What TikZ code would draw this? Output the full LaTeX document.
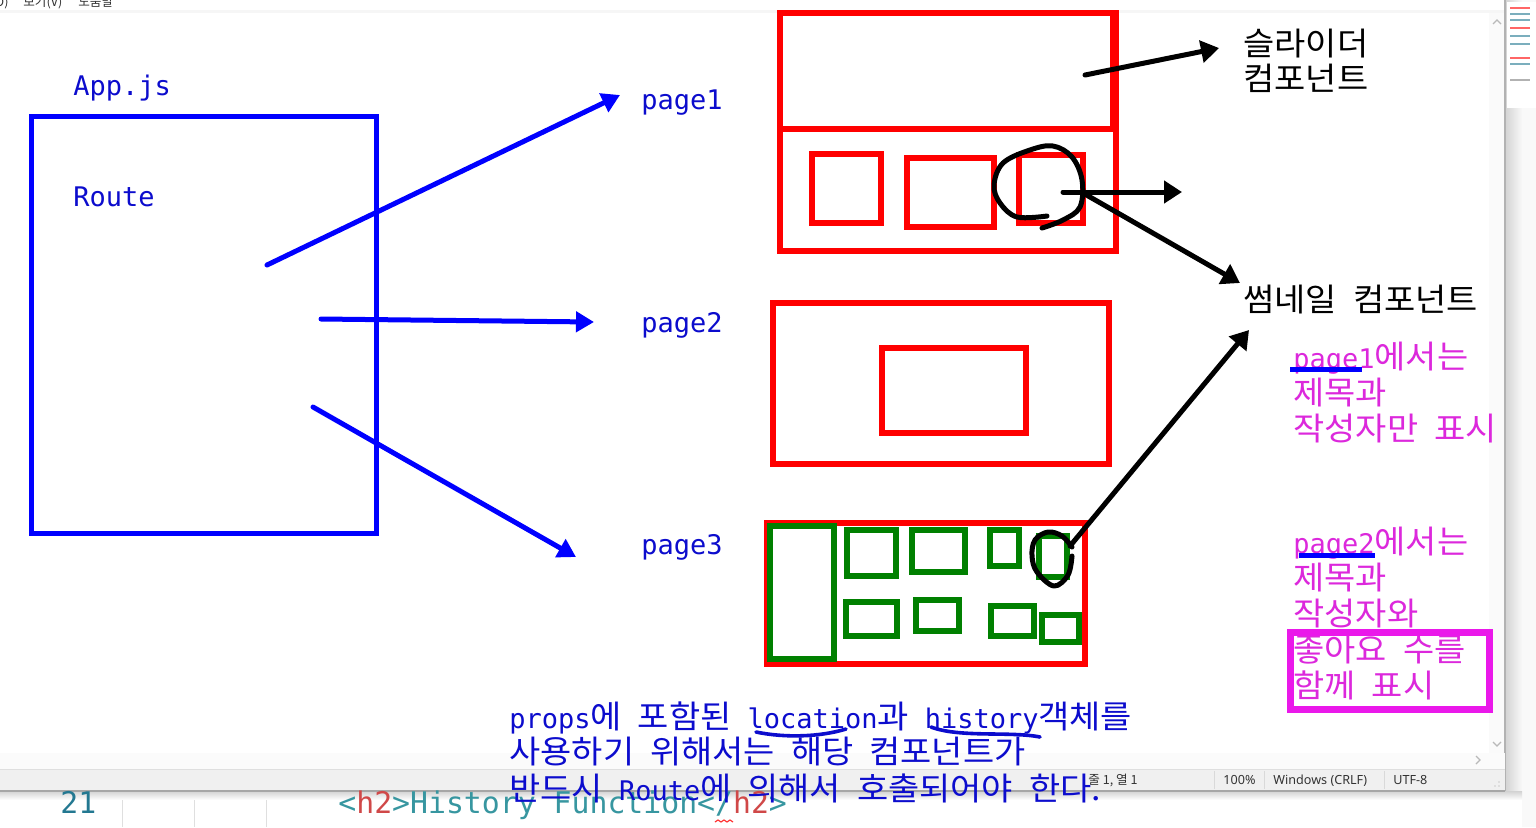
\documentclass[tikz,border=0pt]{standalone}
\usepackage{fontspec}
\setmainfont{Noto Sans CJK KR}
\newfontfamily\krfont[FakeStretch=1.06]{Noto Sans CJK KR}
\newfontfamily\uikrfont{Noto Sans CJK KR}
\newfontfamily\monofont{DejaVu Sans Mono}
\newfontfamily\uifont{Noto Sans}
\usetikzlibrary{arrows.meta,calc}
\definecolor{penblue}{RGB}{0,0,255}
\definecolor{inkblue}{RGB}{12,12,205}
\definecolor{penred}{RGB}{255,0,0}
\definecolor{pengreen}{RGB}{0,128,0}
\definecolor{penpink}{RGB}{234,24,234}
\definecolor{inkpink}{RGB}{220,40,220}
\definecolor{barbg}{RGB}{240,240,240}
\definecolor{lineno}{RGB}{35,120,145}
\definecolor{tagbr}{RGB}{55,150,160}
\definecolor{tagnm}{RGB}{208,72,72}
\newcommand\lat[1]{{\monofont\fontsize{13.5}{18}\selectfont #1}}
\tikzset{%
  bluepen/.style   = {draw=penblue, line width=2.5pt},%
  redpen/.style    = {draw=penred, line width=2.6pt},%
  greenpen/.style  = {draw=pengreen, line width=3pt},%
  blackpen/.style  = {draw=black, line width=2.5pt, line cap=round, line join=round},%
  bluearrow/.style = {bluepen, line cap=round, -{Triangle[length=9pt,width=10pt]}},%
  blackarrow/.style= {blackpen, -{Triangle[length=9pt,width=11pt]}},%
  monolabel/.style = {anchor=base west, inner sep=0pt, text=inkblue,%
                      font={\monofont\fontsize{13.5}{16}\selectfont}},%
  krlabel/.style   = {anchor=base west, inner sep=0pt,%
                      font={\krfont\fontsize{16}{18}\selectfont\spaceskip=8pt\relax}},%
  uitext/.style    = {anchor=base west, inner sep=0pt, text=black!80,%
                      font={\uifont\fontsize{6.3}{8}\selectfont}},%
  uikr/.style      = {uitext, font={\uikrfont\fontsize{6.3}{8}\selectfont}},%
  codetext/.style  = {anchor=base west, inner sep=0pt,%
                      font={\monofont\fontsize{14.9}{18}\selectfont}}%
}
\begin{document}
\begin{tikzpicture}[x=0.5pt, y=-0.5pt]
	\useasboundingbox (0,0) rectangle (1536,827);
	\fill[white] (0,0) rectangle (1536,827);
	% window chrome
	\node[uikr, anchor=base east] (menuO) at (9,6) {서식(O)};
	\node[uikr] (menuV) at (23,6) {보기(V)};
	\node[uikr] (menuH) at (78,6) {도움말};
	\fill[gray!7] (0,10) rectangle (1505,13);
	\fill[gray!4] (1489,13) rectangle (1505,753);
	\draw[gray!55, line width=0.6pt] (1493,24) -- (1497,20) -- (1501,24);
	\draw[gray!55, line width=0.6pt] (1493,742) -- (1497,746) -- (1501,742);
	\shade[left color=gray!35, right color=gray!5] (1505,0) rectangle (1522,800);
	\fill[gray!5] (1522,0) rectangle (1536,827);
	\fill[white] (1507,2) rectangle (1536,108);
	\foreach \yy/\cc in {8/penred,14/lineno,20/lineno,28/penred,36/lineno,44/lineno,58/penred,64/lineno,80/gray}{%
		\draw[\cc!60, line width=0.6pt] (1510,\yy) -- (1530,\yy);}
	\draw[gray!60, line width=1pt] (1505,0) -- (1505,791);
	\fill[gray!3] (0,753) rectangle (1505,769);
	\draw[gray!55, line width=0.6pt] (1476,756) -- (1480,760) -- (1476,764);
	\fill[barbg] (0,769) rectangle (1505,791);
	\draw[gray!25] (0,769) -- (1505,769);
	\draw[gray!30] (1214,771) -- (1214,789) (1264,771) -- (1264,789) (1384,771) -- (1384,789);
	\node[uikr] (stPos) at (1088,784) {줄 1, 열 1};
	\node[uitext] (stZoom) at (1223,784) {100\%};
	\node[uitext] (stEol) at (1273,784) {Windows (CRLF)};
	\node[uitext] (stEnc) at (1393,784) {UTF-8};
	\fill[gray!40] (1495,786) circle (0.8) (1499,782) circle (0.8) (1499,786) circle (0.8);
	\shade[top color=gray!35, bottom color=white] (0,791) rectangle (1522,800);
	\draw[gray!70, line width=1pt] (0,791) -- (1505,791);
	% editor line behind
	\draw[gray!25] (122,800) -- (122,827) (194,800) -- (194,827) (266,800) -- (266,827);
	\node[codetext, text=lineno] (lnum) at (60,813) {21};
	\node[codetext] (codeln) at (338,813) {\textcolor{tagbr}{<}\textcolor{tagnm}{h2}\textcolor{tagbr}{>History Function</}\textcolor{tagnm}{h2}\textcolor{tagbr}{>}};
	\draw[red!80, line width=0.6pt] (715,822) -- (718,820) -- (721,822) -- (724,820) -- (727,822) -- (730,820) -- (733,822);
	% App.js and routes
	\node[monolabel] (lblApp) at (73,95) {App.js};
	\node[monolabel] (lblRoute) at (73,206) {Route};
	\draw[bluepen] (31,116) rectangle (376,533);
	\node[monolabel] (lblPage1) at (641,109) {page1};
	\node[monolabel] (lblPage2) at (641,332) {page2};
	\node[monolabel] (lblPage3) at (641,554) {page3};
	\coordinate (r1) at (267,265);
	\coordinate (r2) at (321,319);
	\coordinate (r3) at (313,407);
	\coordinate (t1) at (620,95);
	\coordinate (t2) at (594,322);
	\coordinate (t3) at (576,557);
	\draw[bluearrow] (r1) -- (t1);
	\draw[bluearrow] (r2) -- (t2);
	\draw[bluearrow] (r3) -- (t3);
	% page1
	\draw[redpen] (780,13) rectangle (1116,251);
	\draw[redpen] (780,129) -- (1116,129);
	\draw[penred, line width=4.5pt] (1114,11) -- (1114,130);
	\draw[redpen] (812,154) rectangle (881,223);
	\draw[redpen] (907,158) rectangle (994,227);
	\draw[redpen] (1019,155) rectangle (1083,223);
	% page2
	\draw[redpen] (773,303) rectangle (1109,464);
	\draw[redpen] (882,348) rectangle (1026,433);
	% page3
	\draw[redpen] (767,523) rectangle (1085,664);
	\draw[greenpen] (770,526) rectangle (834,659);
	\draw[greenpen] (847,530) rectangle (896,576);
	\draw[greenpen] (912,530) rectangle (965,572);
	\draw[greenpen] (990,530) rectangle (1019,566);
	\draw[greenpen] (1039,536) rectangle (1067,577);
	\draw[greenpen] (846,602) rectangle (897,636);
	\draw[greenpen] (916,600) rectangle (959,631);
	\draw[greenpen] (991,606) rectangle (1034,636);
	\draw[greenpen] (1042,615) rectangle (1079,642);
	% components
	\draw[blackpen] plot[smooth, tension=0.6] coordinates {(1047,216) (1017,217) (1000,203) (994,185) (1003,163) (1030,150) (1053,146) (1072,157) (1082,180) (1080,207) (1063,220) (1042,228)};
	\draw[blackpen] plot[smooth, tension=0.6] coordinates {(1072,547) (1062,536) (1048,532) (1035,540) (1032,556) (1037,572) (1054,586) (1068,575) (1072,556)};
	\node[krlabel] (lblSlider) at (1243,55) {슬라이더};
	\node[krlabel] (lblSlider2) at (1243,90) {컴포넌트};
	\node[krlabel] (lblThumb) at (1243,311) {썸네일 컴포넌트};
	\coordinate (s1) at (1085,75);
	\coordinate (s2) at (1219,48);
	\coordinate (c1) at (1063,192);
	\coordinate (c2) at (1182,192);
	\coordinate (c3) at (1083,193);
	\coordinate (c4) at (1240,283);
	\coordinate (c5) at (1070,546);
	\coordinate (c6) at (1249,330);
	\draw[blackarrow] (s1) -- (s2);
	\draw[blackarrow] (c1) -- (c2);
	\draw[blackarrow] (c3) -- (c4);
	\draw[blackarrow] (c5) -- (c6);
	% notes
	\node[krlabel, text=inkpink] (n1a) at (1293,368) {\lat{page1}에서는};
	\node[krlabel, text=inkpink] (n1b) at (1293,404) {제목과};
	\node[krlabel, text=inkpink] (n1c) at (1293,440) {작성자만 표시};
	\draw[penblue, line width=2.5pt] (1290,369) -- (1362,369);
	\node[krlabel, text=inkpink] (n2a) at (1293,553) {\lat{page2}에서는};
	\node[krlabel, text=inkpink] (n2b) at (1293,589) {제목과};
	\node[krlabel, text=inkpink] (n2c) at (1293,625) {작성자와};
	\node[krlabel, text=inkpink] (n2d) at (1293,661) {좋아요 수를};
	\node[krlabel, text=inkpink] (n2e) at (1293,697) {함께 표시};
	\draw[penblue, line width=2.5pt] (1299,555) -- (1375,555);
	\draw[penpink, line width=3.5pt] (1290,632) rectangle (1489,709);
	% props note
	\node[krlabel, text=inkblue] (p1) at (509,728) {\lat{props}에 포함된 \lat{location}과 \lat{history}객체를};
	\node[krlabel, text=inkblue] (p2) at (509,763) {사용하기 위해서는 해당 컴포넌트가};
	\node[krlabel, text=inkblue] (p3) at (509,800) {반드시 \lat{Route}에 의해서 호출되어야 한다.};
	\draw[inkblue, line width=1.8pt, line cap=round] (756,732) .. controls (785,738) and (820,737) .. (846,729);
	\draw[inkblue, line width=1.8pt, line cap=round] (931,727) .. controls (960,738) and (1010,731) .. (1040,737);
\end{tikzpicture}
\end{document}
